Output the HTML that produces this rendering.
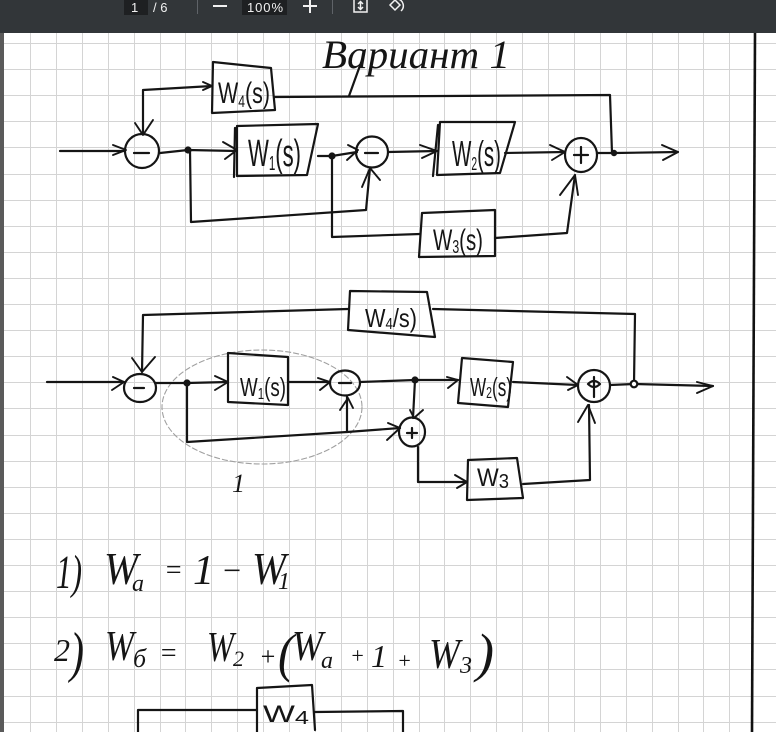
<!DOCTYPE html>
<html><head><meta charset="utf-8"><style>
html,body{margin:0;padding:0;background:#fff;}
body{width:776px;height:732px;overflow:hidden;}
svg{display:block;}
.ink{fill:none;stroke:#151515;stroke-width:2.2;stroke-linecap:round;stroke-linejoin:round;}
.ah{fill:none;stroke:#151515;stroke-width:1.9;stroke-linecap:round;stroke-linejoin:round;}
.t{font-family:"Liberation Sans",sans-serif;fill:#151515;}
.h{font-family:"Liberation Serif","Noto Serif CJK SC",serif;font-style:italic;fill:#151515;}
.tb{font-family:"Liberation Sans",sans-serif;fill:#f1f1f1;font-size:13px;}
</style></head><body>
<svg width="776" height="732" viewBox="0 0 776 732" xmlns="http://www.w3.org/2000/svg">
<rect x="0" y="0" width="776" height="732" fill="#ffffff"/>
<!-- grid -->
<g stroke="#d4d4d4" stroke-width="1" fill="none">
<path d="M30.5 33V732 M56.5 33V732 M82.5 33V732 M108.5 33V732 M134.5 33V732 M160.5 33V732 M185.5 33V732 M211.5 33V732 M237.5 33V732 M263.5 33V732 M289.5 33V732 M315.5 33V732 M341.5 33V732 M367.5 33V732 M393.5 33V732 M419.5 33V732 M444.5 33V732 M470.5 33V732 M496.5 33V732 M522.5 33V732 M548.5 33V732 M574.5 33V732 M600.5 33V732 M626.5 33V732 M652.5 33V732 M678.5 33V732 M703.5 33V732 M729.5 33V732"/>
<path d="M0 43.5H776 M0 69.5H776 M0 95.5H776 M0 121.5H776 M0 147.5H776 M0 174.5H776 M0 200.5H776 M0 226.5H776 M0 252.5H776 M0 278.5H776 M0 304.5H776 M0 330.5H776 M0 356.5H776 M0 382.5H776 M0 408.5H776 M0 435.5H776 M0 461.5H776 M0 487.5H776 M0 513.5H776 M0 539.5H776 M0 565.5H776 M0 591.5H776 M0 617.5H776 M0 643.5H776 M0 669.5H776 M0 696.5H776 M0 722.5H776"/>
</g>
<!-- page edges -->
<rect x="0" y="33" width="4" height="699" fill="#5a5a5a"/>
<path d="M755 33 L752 732" stroke="#111" stroke-width="2.6" fill="none"/>

<!-- toolbar -->
<rect x="0" y="0" width="776" height="33" fill="#323639"/>
<rect x="124" y="0" width="24" height="15" fill="#1e2022"/>
<text class="tb" x="131" y="12">1</text>
<text class="tb" x="153" y="12">/ 6</text>
<rect x="197" y="0" width="1" height="14" fill="#5f6368"/>
<rect x="213" y="5" width="14" height="2" fill="#f1f1f1"/>
<rect x="242" y="0" width="45" height="15" fill="#1e2022"/>
<text class="tb" x="247" y="12" textLength="36">100%</text>
<rect x="303" y="5" width="14" height="2" fill="#f1f1f1"/>
<rect x="309" y="-1" width="2" height="14" fill="#f1f1f1"/>
<rect x="332" y="0" width="1" height="14" fill="#5f6368"/>
<path d="M354 -2 V12 H367 V-2 M360.5 2 V9 M358 4 L360.5 1.5 L363 4 M358 7 L360.5 9.5 L363 7" stroke="#f1f1f1" stroke-width="1.5" fill="none"/>
<path d="M390 5 L395 0 L400 5 L395 10 Z M398 -1 A7 7 0 0 1 401 11" stroke="#f1f1f1" stroke-width="1.5" fill="none"/>

<!-- title -->
<text class="h" x="322" y="68" font-size="40" textLength="188" lengthAdjust="spacingAndGlyphs">Вариант 1</text>
<path class="ink" d="M349 96 L362 60"/>

<!-- ===== TOP DIAGRAM ===== -->
<path class="ink" d="M213 62 L271 68 L275 110 L212 113 Z"/>
<path class="ink" d="M237 126 L318 124 L307 175 L237 176 Z M235 128 L234 177"/>
<path class="ink" d="M440 122 L515 122 L500 173 L437 175 Z M438 125 L433 176"/>
<path class="ink" d="M422 213 L495 210 L495 256 L419 257 Z"/>
<ellipse class="ink" cx="142" cy="151" rx="17" ry="17"/>
<ellipse class="ink" cx="372" cy="152" rx="16" ry="15.5"/>
<ellipse class="ink" cx="581" cy="155" rx="16" ry="17"/>
<path class="ink" d="M134 153 H149 M365 153 H378 M574 155 H588 M581 147 V163"/>
<path class="ink" d="M60 151 L125 151"/>
<path class="ink" d="M160 153 L188 150 L237 151"/>
<path class="ink" d="M318 156 L332 156 L357 152"/>
<path class="ink" d="M388 152 L437 151"/>
<path class="ink" d="M505 153 L565 152"/>
<path class="ink" d="M597 153 L615 153 L678 152"/>
<path class="ink" d="M190 150 L191 222 L366 210 L370 168"/>
<path class="ink" d="M332 156 L332 237 L420 234"/>
<path class="ink" d="M495 238 L567 233 L575 175"/>
<path class="ink" d="M612 153 L610 95 L275 97"/>
<path class="ink" d="M212 86 L143 90 L143 134"/>
<path class="ah" d="M113 145 L126 150 L113 155"/>
<path class="ah" d="M135 123 L143 135 L153 120"/>
<path class="ah" d="M223 142 L237 150 L225 159"/>
<path class="ah" d="M348 145 L358 150 L347 160"/>
<path class="ah" d="M362 187 L370 168 L380 180"/>
<path class="ah" d="M420 145 L437 151 L422 158"/>
<path class="ah" d="M550 145 L565 152 L552 160"/>
<path class="ah" d="M560 195 L575 175 L578 195" stroke-width="2.6"/>
<path class="ah" d="M662 145 L678 152 L663 160"/>
<path class="ah" d="M203 82 L212 86 L203 90"/>
<circle cx="188" cy="150" r="3.6" fill="#151515"/>
<circle cx="332" cy="156" r="3.6" fill="#151515"/>
<circle cx="614" cy="153" r="3.2" fill="#151515"/>
<text class="t" x="218" y="103" font-size="30" textLength="52" lengthAdjust="spacingAndGlyphs">W<tspan font-size="17" dy="4">4</tspan><tspan dy="-4">(s)</tspan></text>
<text class="t" x="248" y="166" font-size="38" textLength="53" lengthAdjust="spacingAndGlyphs">W<tspan font-size="20" dy="4">1</tspan><tspan dy="-4">(s)</tspan></text>
<text class="t" x="452" y="166" font-size="36" textLength="49" lengthAdjust="spacingAndGlyphs">W<tspan font-size="18" dy="4">2</tspan><tspan dy="-4">(s)</tspan></text>
<text class="t" x="433" y="250" font-size="30" textLength="50" lengthAdjust="spacingAndGlyphs">W<tspan font-size="18" dy="3">3</tspan><tspan dy="-3">(s)</tspan></text>

<!-- ===== SECOND DIAGRAM ===== -->
<ellipse cx="262" cy="407" rx="100" ry="57" fill="none" stroke="#a0a0a0" stroke-width="1.1" stroke-dasharray="6 2"/>
<text class="h" x="232" y="492" font-size="26">1</text>
<path class="ink" d="M350 291 L427 292 L435 337 L348 330 Z"/>
<path class="ink" d="M228 353 L288 357 L288 405 L228 402 Z"/>
<path class="ink" d="M462 358 L513 362 L508 407 L458 403 Z"/>
<path class="ink" d="M468 460 L517 458 L523 498 L467 500 Z"/>
<ellipse class="ink" cx="140" cy="388" rx="16" ry="14"/>
<ellipse class="ink" cx="345" cy="383" rx="15" ry="12.5"/>
<ellipse class="ink" cx="412" cy="432" rx="13" ry="14.5"/>
<ellipse class="ink" cx="594" cy="386" rx="16" ry="16"/>
<path class="ink" d="M134 388 H144 M339 383 H351 M407 433 H417 M412 428 V438 M588 384 Q594 378 600 384 Q594 390 588 384 M594 377 V397"/>
<path class="ink" d="M47 382 L124 382"/>
<path class="ink" d="M156 383 L187 383 L228 382"/>
<path class="ink" d="M288 382 L330 382"/>
<path class="ink" d="M360 382 L415 380 L458 380"/>
<path class="ink" d="M513 382 L578 385"/>
<path class="ink" d="M610 385 L634 384 L713 386"/>
<path class="ink" d="M634 384 L635 314 L433 309"/>
<path class="ink" d="M348 309 L143 315 L142 372"/>
<path class="ink" d="M187 383 L187 442 L347 432 L400 428"/>
<path class="ink" d="M347 432 L347 396"/>
<path class="ink" d="M415 380 L413 418"/>
<path class="ink" d="M418 447 L418 482 L467 482"/>
<path class="ink" d="M523 484 L590 480 L589 405"/>
<path class="ah" d="M113 377 L124 382 L112 390"/>
<path class="ah" d="M132 358 L142 372 L155 357"/>
<path class="ah" d="M215 376 L228 382 L215 390"/>
<path class="ah" d="M318 378 L330 382 L320 390"/>
<path class="ah" d="M340 410 L348 398 L353 408"/>
<path class="ah" d="M388 423 L400 428 L387 440"/>
<path class="ah" d="M410 410 L414 418 L423 410"/>
<path class="ah" d="M447 377 L458 380 L448 388"/>
<path class="ah" d="M455 475 L467 482 L457 488"/>
<path class="ah" d="M567 377 L578 385 L568 390"/>
<path class="ah" d="M578 422 L588 405 L595 423"/>
<path class="ah" d="M697 382 L713 386 L697 393"/>
<circle cx="187" cy="383" r="3.6" fill="#151515"/>
<circle cx="415" cy="380" r="3.6" fill="#151515"/>
<circle cx="634" cy="384" r="3.3" fill="#fff" stroke="#151515" stroke-width="2.2"/>
<text class="t" x="365" y="327" font-size="26" textLength="52" lengthAdjust="spacingAndGlyphs">W<tspan font-size="16" dy="2">4</tspan><tspan dy="-2">/s)</tspan></text>
<text class="t" x="240" y="396" font-size="26" textLength="46" lengthAdjust="spacingAndGlyphs">W<tspan font-size="16" dy="3">1</tspan><tspan dy="-3">(s)</tspan></text>
<text class="t" x="470" y="396" font-size="26" textLength="42" lengthAdjust="spacingAndGlyphs">W<tspan font-size="16" dy="2">2</tspan><tspan dy="-2">(s)</tspan></text>
<text class="t" x="477" y="486" font-size="25" textLength="32" lengthAdjust="spacingAndGlyphs">W<tspan font-size="20" dy="2">3</tspan></text>

<!-- ===== EQUATIONS ===== -->
<text class="h" x="56" y="588" font-size="48" textLength="26" lengthAdjust="spacingAndGlyphs">1)</text>
<text class="h" x="104" y="584" font-size="46" textLength="34" lengthAdjust="spacingAndGlyphs">W</text>
<text class="h" x="132" y="591" font-size="24">a</text>
<text class="h" x="164" y="579" font-size="28">=</text>
<text class="h" x="193" y="584" font-size="42">1</text>
<text class="h" x="221" y="581" font-size="32">−</text>
<text class="h" x="252" y="584" font-size="46" textLength="34" lengthAdjust="spacingAndGlyphs">W</text>
<text class="h" x="278" y="589" font-size="24">1</text>

<text class="h" x="54" y="661" font-size="32">2</text>
<text class="h" x="70" y="671" font-size="56" textLength="14" lengthAdjust="spacingAndGlyphs">)</text>
<text class="h" x="105" y="660" font-size="42" textLength="29" lengthAdjust="spacingAndGlyphs">W</text>
<text class="h" x="133" y="667" font-size="26">б</text>
<text class="h" x="159" y="662" font-size="28">=</text>
<text class="h" x="207" y="661" font-size="42" textLength="27" lengthAdjust="spacingAndGlyphs">W</text>
<text class="h" x="233" y="666" font-size="22">2</text>
<text class="h" x="259" y="665" font-size="26">+</text>
<text class="h" x="278" y="671" font-size="54" textLength="16" lengthAdjust="spacingAndGlyphs">(</text>
<text class="h" x="292" y="660" font-size="42" textLength="31" lengthAdjust="spacingAndGlyphs">W</text>
<text class="h" x="321" y="668" font-size="24">a</text>
<text class="h" x="350" y="663" font-size="22">+</text>
<text class="h" x="371" y="667" font-size="32">1</text>
<text class="h" x="397" y="668" font-size="22">+</text>
<text class="h" x="429" y="668" font-size="42" textLength="31" lengthAdjust="spacingAndGlyphs">W</text>
<text class="h" x="460" y="673" font-size="24">3</text>
<text class="h" x="476" y="671" font-size="54" textLength="18" lengthAdjust="spacingAndGlyphs">)</text>

<!-- bottom partial diagram -->
<path class="ink" d="M257 688 L312 685 L315 730 M257 688 L257 732"/>
<path class="ink" d="M257 710 L138 710 L138 732"/>
<path class="ink" d="M315 712 L403 711 L403 732"/>
<text class="t" x="263" y="722" font-size="24" textLength="46" lengthAdjust="spacingAndGlyphs">W<tspan font-size="18" dy="2">4</tspan></text>
</svg>
</body></html>
